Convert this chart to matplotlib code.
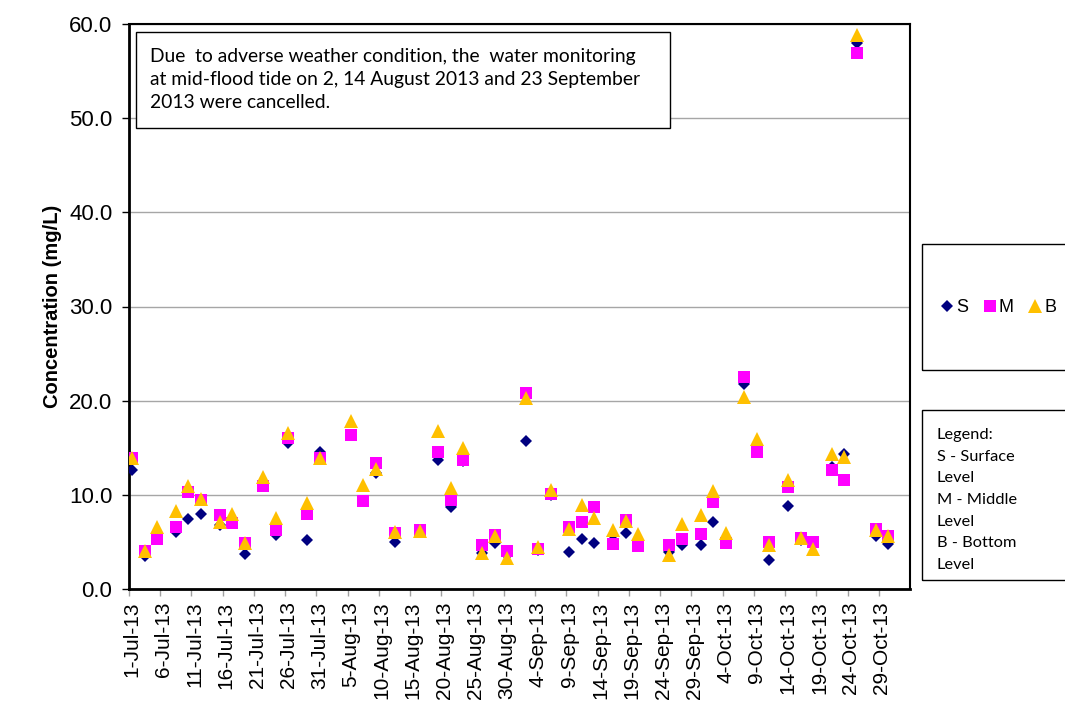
import matplotlib
matplotlib.use("Agg")
import matplotlib.pyplot as plt
import matplotlib.dates as mdates
from matplotlib.patches import Rectangle
from matplotlib.ticker import FixedLocator, FixedFormatter, FormatStrFormatter
import pandas as pd

dates = ["2013-07-01", "2013-07-03", "2013-07-05", "2013-07-08", "2013-07-10", "2013-07-12",
         "2013-07-15", "2013-07-17", "2013-07-19", "2013-07-22", "2013-07-24", "2013-07-26",
         "2013-07-29", "2013-07-31", "2013-08-05", "2013-08-07", "2013-08-09", "2013-08-12",
         "2013-08-16", "2013-08-19", "2013-08-21", "2013-08-23", "2013-08-26", "2013-08-28",
         "2013-08-30", "2013-09-02", "2013-09-04", "2013-09-06", "2013-09-09", "2013-09-11",
         "2013-09-13", "2013-09-16", "2013-09-18", "2013-09-20", "2013-09-25", "2013-09-27",
         "2013-09-30", "2013-10-02", "2013-10-04", "2013-10-07", "2013-10-09", "2013-10-11",
         "2013-10-14", "2013-10-16", "2013-10-18", "2013-10-21", "2013-10-23", "2013-10-25",
         "2013-10-28", "2013-10-30"]

surface = [12.6, 3.5, 5.3, 6.1, 7.4, 8.0, 6.8, 7.0, 3.7, 10.9, 5.7, 15.5, 5.2, 14.6,
           16.4, 9.3, 12.3, 5.0, 6.1, 13.7, 8.7, 13.6, 3.8, 4.9, 3.6, 15.7, 4.1, 10.0,
           3.9, 5.3, 4.9, 5.2, 5.9, 4.6, 3.9, 4.7, 4.7, 7.1, 4.9, 21.8, 14.6, 3.1,
           8.8, 5.2, 4.9, 13.0, 14.3, 58.0, 5.6, 4.8]
middle = [13.9, 4.0, 5.3, 6.6, 10.3, 9.4, 7.9, 7.0, 4.9, 10.9, 6.3, 16.0, 8.0, 13.9,
          16.4, 9.3, 13.4, 5.9, 6.3, 14.5, 9.5, 13.7, 4.7, 5.7, 4.0, 20.8, 4.2, 10.1,
          6.6, 7.1, 8.7, 4.8, 7.3, 4.6, 4.7, 5.3, 5.8, 9.2, 4.9, 22.5, 14.6, 5.0,
          10.8, 5.4, 5.0, 12.6, 11.6, 56.9, 6.4, 5.6]
bottom = [13.9, 4.0, 6.6, 8.3, 10.9, 9.6, 7.1, 8.0, 4.9, 11.9, 7.5, 16.6, 9.1, 13.9,
          17.8, 11.0, 12.7, 6.1, 6.2, 16.8, 10.7, 15.0, 3.8, 5.6, 3.3, 20.3, 4.5, 10.5,
          6.4, 8.9, 7.5, 6.3, 7.2, 5.8, 3.6, 6.9, 7.9, 10.4, 6.0, 20.4, 15.9, 4.7,
          11.6, 5.4, 4.3, 14.3, 14.0, 58.8, 6.3, 5.6]

series_names = ["S", "M", "B"]
y_ticks = [0, 10, 20, 30, 40, 50, 60]
note_text = ("Due  to adverse weather condition, the  water monitoring\n"
             "at mid-flood tide on 2, 14 August 2013 and 23 September\n"
             "2013 were cancelled.")
legend_text = "Legend:\nS - Surface\nLevel\nM - Middle\nLevel\nB - Bottom\nLevel"

W, H = 1065, 705
fig = plt.figure(figsize=(W / 100, H / 100), dpi=100)
plt.rcParams['font.family'] = ['Liberation Sans', 'DejaVu Sans']

def fx(px):
    return px / W

def fy(py):
    return 1 - py / H

ax = fig.add_axes([fx(129), fy(589), fx(910) - fx(129), fy(24) - fy(589)])

x = mdates.date2num(pd.to_datetime(dates))
start = mdates.date2num(pd.Timestamp("2013-07-01"))

ax.plot(x, surface, linestyle='none', marker='D', ms=6.6, color='#000080', mew=0, label=series_names[0], zorder=3)
ax.plot(x, middle, linestyle='none', marker='s', ms=9.2, color='#FF00FF', mew=0, label=series_names[1], zorder=4)
ax.plot(x, bottom, linestyle='none', marker='^', ms=9.6, color='#FFC000', mew=0, label=series_names[2], zorder=5)

ax.set_xlim(start - 0.5, start + 124.5)
ax.set_ylim(0, 60)
ax.set_yticks(y_ticks)
ax.yaxis.set_major_formatter(FormatStrFormatter('%.1f'))
ax.tick_params(axis='y', labelsize=16, length=5, width=1, direction='out', pad=7)
ax.grid(axis='y', color='#a6a6a6', linewidth=1.0, zorder=0)
ax.set_axisbelow(True)

major = [start - 0.5 + 5 * k for k in range(25)]
minor = [start + 5 * k for k in range(25)]
lab_dates = pd.to_datetime(mdates.num2date(minor))
labels = [f"{d.day}-{d.strftime('%b-%y')}" for d in lab_dates]
ax.xaxis.set_major_locator(FixedLocator(major))
ax.xaxis.set_major_formatter(FixedFormatter([''] * len(major)))
ax.xaxis.set_minor_locator(FixedLocator(minor))
ax.xaxis.set_minor_formatter(FixedFormatter(labels))
ax.tick_params(axis='x', which='major', length=5, width=1, color='#a0a0a0', direction='out')
ax.tick_params(axis='x', which='minor', length=0, labelsize=15, labelrotation=90, pad=9)

for side in ['left', 'bottom']:
    ax.spines[side].set_linewidth(2.0)
for side in ['top', 'right']:
    ax.spines[side].set_linewidth(1.5)
for s in ax.spines.values():
    s.set_color('black')

ax.set_ylabel("Concentration (mg/L)", fontsize=14.5, fontweight='bold', labelpad=5)

# note box
fig.patches.append(Rectangle((fx(136), fy(128)), fx(670) - fx(136), fy(32) - fy(128),
                             transform=fig.transFigure, fill=True, facecolor='white',
                             edgecolor='black', linewidth=1.0, zorder=10))
fig.text(fx(150), fy(79.5), note_text, fontsize=13.9, family=['Lato', 'DejaVu Sans'],
         va='center', ha='left', linespacing=1.42, zorder=11)

# legend boxes
fig.patches.append(Rectangle((fx(922), fy(370)), fx(1075) - fx(922), fy(244) - fy(370),
                             transform=fig.transFigure, fill=False, edgecolor='black',
                             linewidth=1.0, zorder=10))
fig.patches.append(Rectangle((fx(922), fy(580)), fx(1075) - fx(922), fy(410) - fy(580),
                             transform=fig.transFigure, fill=False, edgecolor='black',
                             linewidth=1.0, zorder=10))
fig.legend(loc='center', bbox_to_anchor=(fx(998), fy(308)), ncol=3, frameon=False,
           fontsize=13, handlelength=0.8, handletextpad=0.1, columnspacing=0.8,
           borderpad=0, borderaxespad=0)
fig.text(fx(937), fy(500), legend_text, fontsize=11.8, family=['Lato', 'DejaVu Sans'],
         va='center', ha='left', linespacing=1.7)

fig.savefig("out.png", dpi=100)
